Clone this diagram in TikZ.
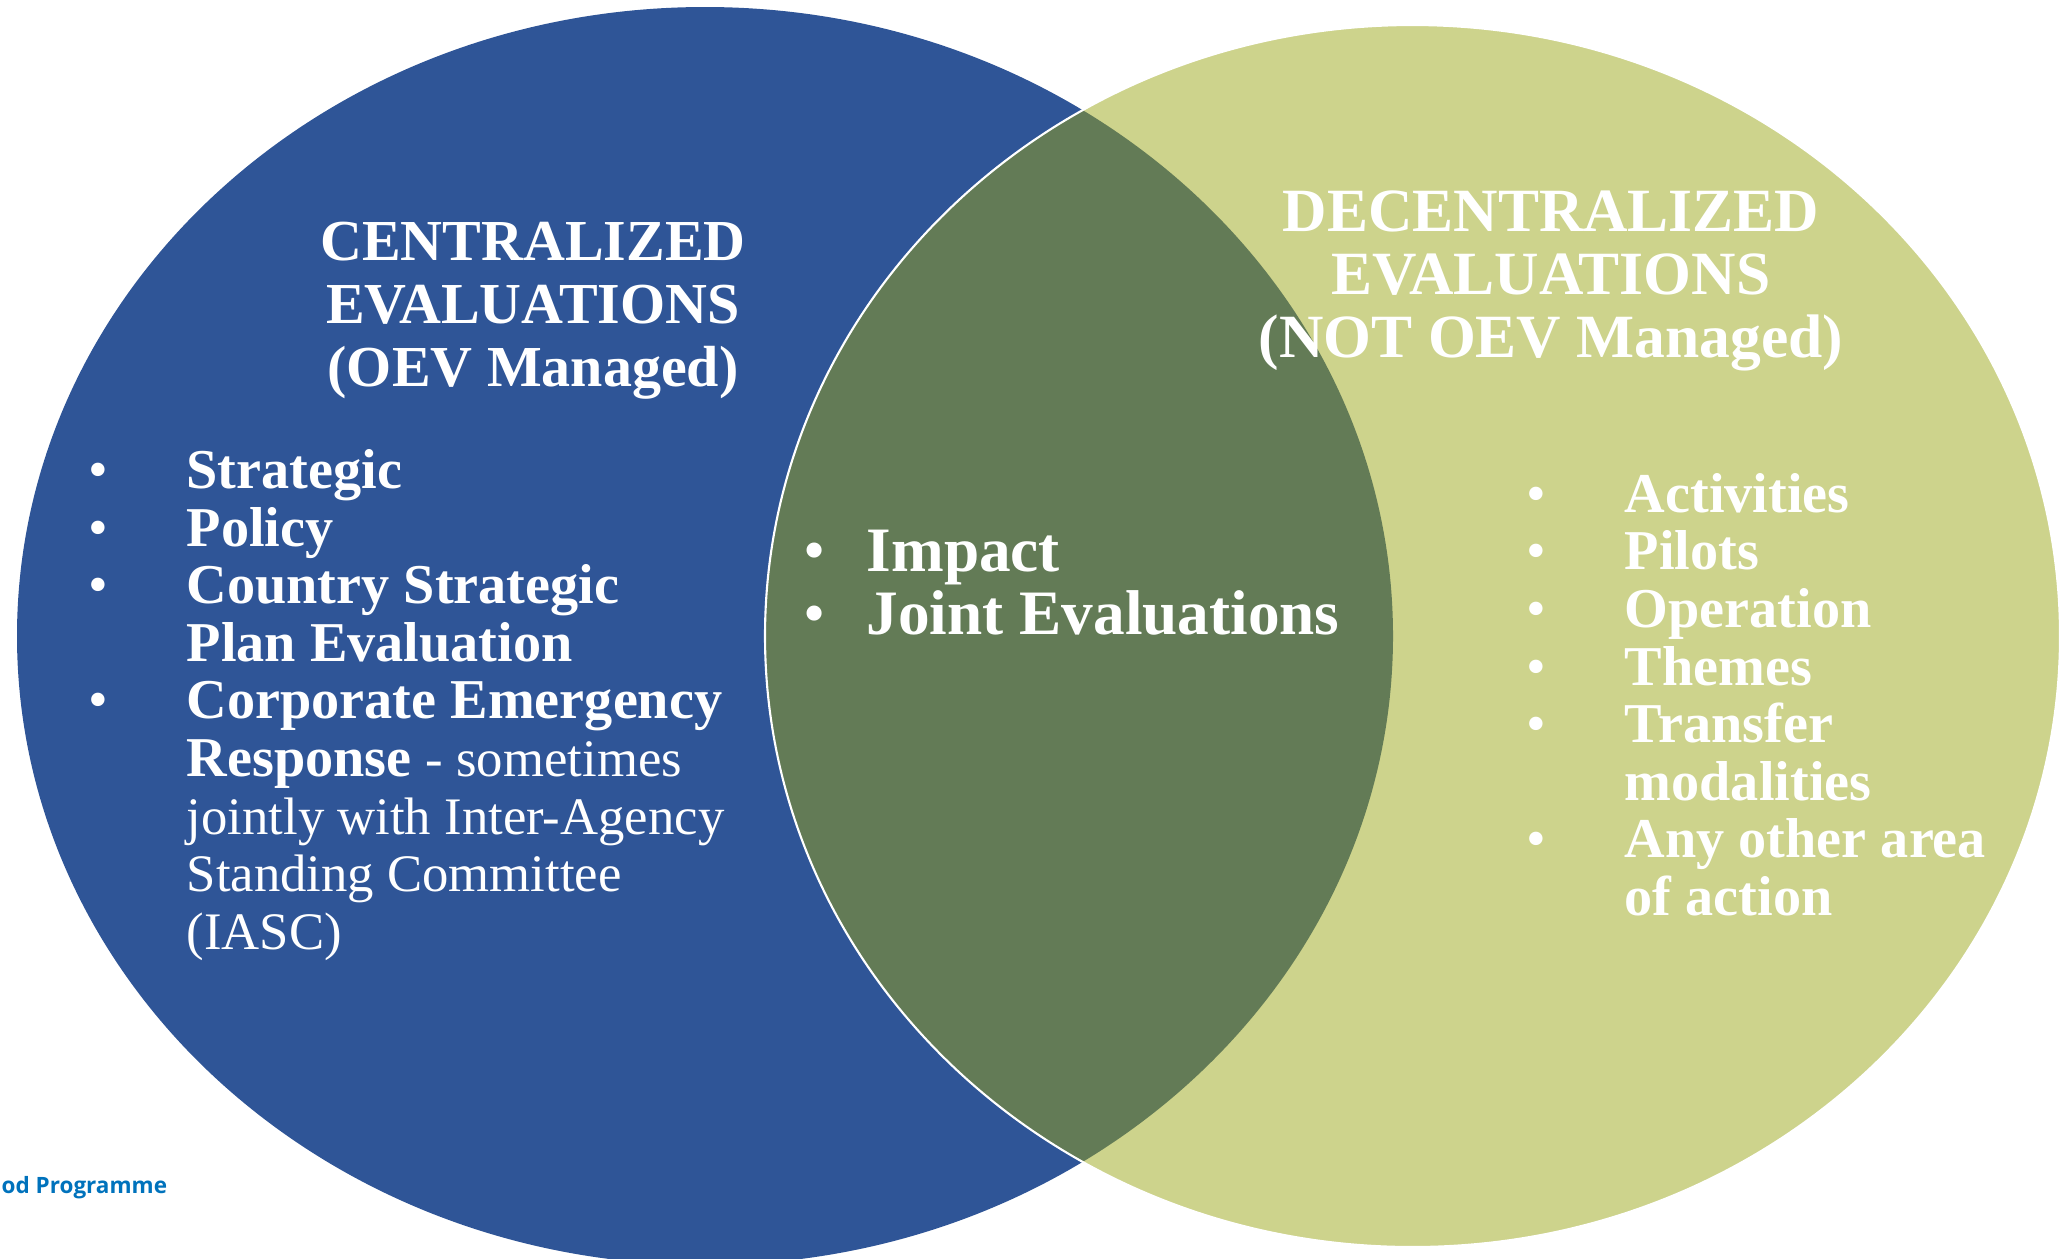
\documentclass[tikz,border=0pt]{standalone}
\usepackage{fontspec}
\setmainfont{Liberation Serif}
\newfontfamily\wfpfont{Open Sans}
\usetikzlibrary{positioning}
\definecolor{cenblue}{RGB}{47,85,151}
\definecolor{decgreen}{RGB}{205,211,140}
\definecolor{jointgreen}{RGB}{99,123,86}
\definecolor{wfpblue}{RGB}{0,114,188}
\newcommand{\plaintxt}{\fontsize{15}{18}\selectfont\mdseries}

\begin{document}
\begin{tikzpicture}[
  headtxt/.style={text=white, font=\fontsize{16.5}{19}\selectfont\bfseries, inner sep=0pt, anchor=base},
  itemtxt/.style={text=white, font=\fontsize{16}{18}\selectfont\bfseries, inner sep=0pt, anchor=base west},
  bullettxt/.style={text=white, font=\fontsize{16}{18}\selectfont, inner sep=0pt, anchor=base},
  jointtxt/.style={itemtxt, font=\fontsize{18}{20}\selectfont\bfseries}
]
\useasboundingbox (0,0) rectangle (20.68,-12.58);

% the two sets and their overlap
\fill[color=cenblue] (7.05,-6.36) ellipse [x radius=6.88, y radius=6.29];
\fill[color=decgreen] (14.125,-6.36) ellipse [x radius=6.475, y radius=6.11];
\begin{scope}
\clip (7.05,-6.36) ellipse [x radius=6.88, y radius=6.29];
\fill[color=jointgreen] (14.125,-6.36) ellipse [x radius=6.475, y radius=6.11];
\end{scope}
\draw[color=white, line width=0.6pt] (14.125,-6.36) ellipse [x radius=6.475, y radius=6.11];

% centralized
\node[headtxt] (cenHeadA) at (5.33,-2.60) {CENTRALIZED};
\node[headtxt] (cenHeadB) at (5.33,-3.23) {EVALUATIONS};
\node[headtxt] (cenHeadC) at (5.33,-3.86) {(OEV Managed)};

\node[bullettxt] (cenBulA) at (0.98,-4.88) {\textbullet};
\node[bullettxt] (cenBulB) at (0.98,-5.46) {\textbullet};
\node[bullettxt] (cenBulC) at (0.98,-6.03) {\textbullet};
\node[bullettxt] (cenBulD) at (0.98,-7.18) {\textbullet};

\node[itemtxt] (cenA) at (1.86,-4.88) {Strategic};
\node[itemtxt] (cenB) at (1.86,-5.46) {Policy};
\node[itemtxt] (cenC) at (1.86,-6.03) {Country Strategic};
\node[itemtxt] (cenD) at (1.86,-6.61) {Plan Evaluation};
\node[itemtxt] (cenE) at (1.86,-7.18) {Corporate Emergency};
\node[itemtxt] (cenF) at (1.86,-7.76) {Response {\plaintxt - sometimes}};
\node[itemtxt] (cenG) at (1.86,-8.34) {\plaintxt jointly with Inter-Agency};
\node[itemtxt] (cenH) at (1.86,-8.91) {\plaintxt Standing Committee};
\node[itemtxt] (cenI) at (1.86,-9.49) {\plaintxt (IASC)};

% overlap
\node[bullettxt, font=\fontsize{18}{20}\selectfont] (jointBulA) at (8.15,-5.71) {\textbullet};
\node[bullettxt, font=\fontsize{18}{20}\selectfont] (jointBulB) at (8.15,-6.34) {\textbullet};
\node[jointtxt] (jointA) at (8.66,-5.71) {Impact};
\node[jointtxt] (jointB) at (8.66,-6.34) {Joint Evaluations};

% decentralized
\node[headtxt, font=\fontsize{17.5}{20}\selectfont\bfseries] (decHeadA) at (15.51,-2.31) {DECENTRALIZED};
\node[headtxt, font=\fontsize{17.5}{20}\selectfont\bfseries] (decHeadB) at (15.51,-2.94) {EVALUATIONS};
\node[headtxt, font=\fontsize{17.5}{20}\selectfont\bfseries] (decHeadC) at (15.51,-3.57) {(NOT OEV Managed)};

\node[bullettxt] (decBulA) at (15.36,-5.12) {\textbullet};
\node[bullettxt] (decBulB) at (15.36,-5.69) {\textbullet};
\node[bullettxt] (decBulC) at (15.36,-6.27) {\textbullet};
\node[bullettxt] (decBulD) at (15.36,-6.85) {\textbullet};
\node[bullettxt] (decBulE) at (15.36,-7.42) {\textbullet};
\node[bullettxt] (decBulF) at (15.36,-8.57) {\textbullet};

\node[itemtxt] (decA) at (16.24,-5.12) {Activities};
\node[itemtxt] (decB) at (16.24,-5.69) {Pilots};
\node[itemtxt] (decC) at (16.24,-6.27) {Operation};
\node[itemtxt] (decD) at (16.24,-6.85) {Themes};
\node[itemtxt] (decE) at (16.24,-7.42) {Transfer};
\node[itemtxt] (decF) at (16.24,-8.00) {modalities};
\node[itemtxt] (decG) at (16.24,-8.57) {Any other area};
\node[itemtxt] (decH) at (16.24,-9.15) {of action};

% footer fragment
\node[anchor=base west, inner sep=0pt, text=wfpblue, font=\wfpfont\fontsize{6.4}{8}\selectfont\bfseries] (wfp) at (0.01,-11.93) {od Programme};

\end{tikzpicture}
\end{document}
